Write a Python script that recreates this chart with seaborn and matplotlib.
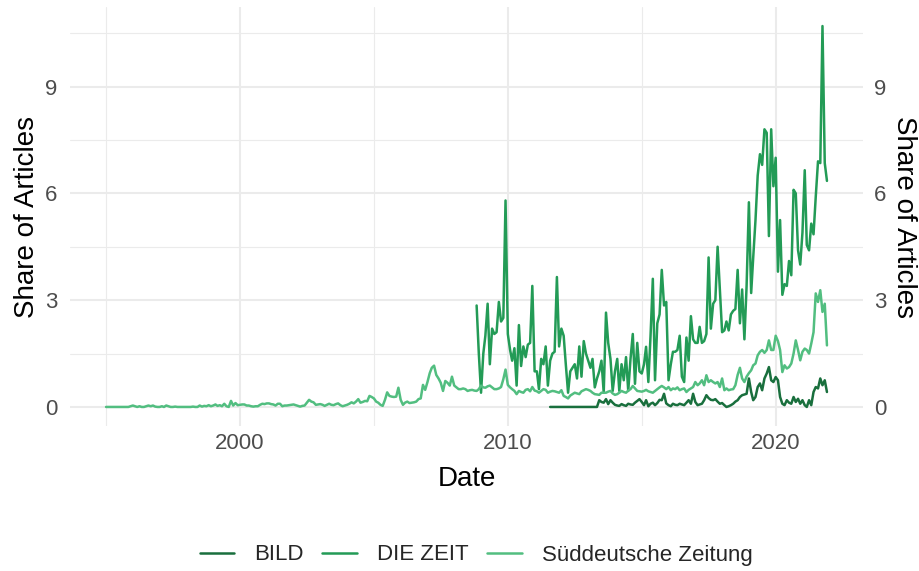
import numpy as np
import pandas as pd
import matplotlib
matplotlib.use("Agg")
import matplotlib.pyplot as plt
import seaborn as sns

# monthly share of articles (%)
sz_start = "1995-01-01"
sz_share = [
    0, 0, 0, 0, 0, 0, 0, 0, 0, 0, 0, 0.02,                                  # 1995
    0.04, 0.02, 0, 0.02, 0, 0, 0.02, 0.04, 0.02, 0.04, 0.01, 0,              # 1996
    0, 0.02, 0, 0.04, 0.02, 0, 0, 0.01, 0, 0, 0, 0,                          # 1997
    0, 0, 0, 0.01, 0, 0, 0.04, 0.01, 0.03, 0.02, 0.05, 0.02,                 # 1998
    0.04, 0.07, 0.03, 0.05, 0.02, 0.09, 0.02, 0.0, 0.17, 0.04, 0.11, 0.05,   # 1999
    0.06, 0.07, 0.07, 0.04, 0.04, 0.02, 0.01, 0.02, 0.02, 0.06, 0.09, 0.08,  # 2000
    0.1, 0.1, 0.08, 0.07, 0.04, 0.09, 0.09, 0.02, 0.04, 0.04, 0.05, 0.06,    # 2001
    0.07, 0.05, 0.03, 0.01, 0.03, 0.04, 0.12, 0.2, 0.15, 0.13, 0.06, 0.07,   # 2002
    0.08, 0.06, 0.03, 0.06, 0.09, 0.06, 0.05, 0.08, 0.1, 0.05, 0.02, 0.04,   # 2003
    0.06, 0.09, 0.13, 0.1, 0.15, 0.22, 0.12, 0.14, 0.17, 0.16, 0.31, 0.28,   # 2004
    0.24, 0.15, 0.12, 0.06, 0.03, 0.2, 0.41, 0.31, 0.29, 0.28, 0.29, 0.54,   # 2005
    0.2, 0.06, 0.12, 0.15, 0.11, 0.12, 0.13, 0.15, 0.22, 0.24, 0.62, 0.48,   # 2006
    0.7, 0.95, 1.1, 1.16, 0.9, 0.8, 0.68, 0.45, 0.73, 0.68, 0.6, 0.85,       # 2007
    0.6, 0.55, 0.5, 0.5, 0.52, 0.5, 0.45, 0.47, 0.48, 0.46, 0.45, 0.5,       # 2008
    0.6, 0.55, 0.54, 0.58, 0.6, 0.55, 0.5, 0.5, 0.52, 0.56, 0.78, 1.05,      # 2009
    0.62, 0.55, 0.5, 0.45, 0.36, 0.45, 0.42, 0.4, 0.48, 0.5, 0.44, 0.56,     # 2010
    0.46, 0.44, 0.4, 0.45, 0.5, 0.48, 0.4, 0.43, 0.45, 0.44, 0.42, 0.4,      # 2011
    0.47, 0.31, 0.28, 0.24, 0.32, 0.36, 0.4, 0.38, 0.36, 0.44, 0.47, 0.5,    # 2012
    0.48, 0.45, 0.4, 0.36, 0.35, 0.34, 0.4, 0.4, 0.4, 0.43, 0.45, 0.38,      # 2013
    0.34, 0.36, 0.4, 0.45, 0.42, 0.4, 0.46, 0.5, 0.59, 0.52, 0.45, 0.44,     # 2014
    0.43, 0.45, 0.48, 0.44, 0.42, 0.4, 0.45, 0.5, 0.55, 0.59, 0.55, 0.5,     # 2015
    0.56, 0.47, 0.52, 0.5, 0.55, 0.47, 0.5, 0.52, 0.42, 0.48, 0.52, 0.56,    # 2016
    0.7, 0.61, 0.66, 0.75, 0.61, 0.89, 0.7, 0.75, 0.7, 0.66, 0.7, 0.56,      # 2017
    0.8, 0.47, 0.52, 0.47, 0.49, 0.5, 0.61, 0.9, 1.1, 0.8, 0.7, 0.85,        # 2018
    0.95, 1.03, 1.17, 1.22, 1.45, 1.55, 1.6, 1.52, 1.6, 1.87, 1.6, 1.6,      # 2019
    2.0, 1.85, 1.6, 0.98, 1.17, 1.08, 1.12, 1.22, 1.5, 1.87, 1.6, 1.31,      # 2020
    1.55, 1.64, 1.6, 1.5, 1.78, 2.1, 3.19, 2.95, 3.28, 2.67, 2.9, 1.73,      # 2021
]

zeit_start = "2008-11-01"
zeit_share = [
    2.85, 1.5,                                                               # 2008
    0.4, 1.5, 2.0, 2.9, 1.2, 2.2, 2.05, 2.1, 2.95, 2.4, 2.5, 5.8,            # 2009
    2.05, 1.6, 1.3, 1.65, 0.6, 2.3, 1.15, 1.7, 1.4, 1.75, 1.8, 3.4,          # 2010
    1.0, 1.0, 0.5, 1.35, 1.2, 1.7, 0.6, 1.3, 1.5, 1.55, 3.65, 1.7,           # 2011
    2.2, 2.0, 1.2, 0.4, 1.0, 1.1, 1.2, 0.8, 1.7, 0.85, 1.85, 1.5,            # 2012
    1.3, 1.1, 1.35, 0.55, 0.8, 1.0, 1.3, 0.4, 2.65, 1.8, 1.35, 0.45,         # 2013
    1.0, 1.35, 0.45, 1.2, 0.75, 1.4, 0.45, 1.35, 2.05, 0.65, 1.8, 1.0,       # 2014
    0.94, 1.2, 1.69, 0.7, 2.0, 3.6, 0.75, 2.35, 2.6, 3.85, 2.85, 2.95,       # 2015
    0.75, 1.2, 1.55, 1.55, 1.6, 2.0, 0.85, 0.7, 1.95, 1.3, 2.55, 1.9,        # 2016
    1.8, 1.8, 2.25, 1.8, 1.85, 2.05, 4.2, 2.2, 2.9, 3.0, 4.5, 3.3,           # 2017
    2.1, 2.15, 2.4, 2.15, 2.6, 2.7, 2.75, 3.85, 2.35, 3.3, 1.9, 3.4,         # 2018
    5.75, 3.2, 4.2, 5.25, 6.5, 7.1, 6.8, 7.8, 7.7, 4.8, 7.8, 6.2,            # 2019
    7.0, 3.8, 5.25, 3.15, 3.45, 3.4, 4.1, 3.7, 6.1, 6.0, 4.4, 4.0,           # 2020
    4.9, 6.65, 4.55, 4.4, 5.15, 4.85, 5.9, 6.9, 6.85, 10.7, 6.85, 6.35,      # 2021
]

bild_start = "2011-08-01"
bild_share = [
    0, 0, 0, 0, 0,                                                           # 2011
    0, 0, 0, 0, 0, 0, 0, 0, 0, 0, 0, 0,                                      # 2012
    0, 0, 0, 0, 0, 0.19, 0.14, 0.12, 0.22, 0.08, 0.19, 0.12,                 # 2013
    0.06, 0.04, 0.03, 0.08, 0.05, 0.03, 0.09, 0.07, 0.06, 0.12, 0.17, 0.22,  # 2014
    0.14, 0.05, 0.19, 0.02, 0.09, 0.12, 0.05, 0.11, 0.2, 0.19, 0.37, 0.1,    # 2015
    0.05, 0.02, 0.09, 0.06, 0.05, 0.09, 0.07, 0.05, 0.12, 0.19, 0.09, 0.37,  # 2016
    0.14, 0.05, 0.07, 0.09, 0.19, 0.33, 0.25, 0.2, 0.19, 0.22, 0.15, 0.09,   # 2017
    0.11, 0.05, 0.0, 0.02, 0.05, 0.09, 0.15, 0.19, 0.28, 0.33, 0.35, 0.37,   # 2018
    0.8, 0.42, 0.19, 0.28, 0.56, 0.66, 0.47, 0.8, 0.94, 1.12, 0.75, 0.7,     # 2019
    0.84, 0.75, 0.28, 0.09, 0.05, 0.19, 0.12, 0.09, 0.28, 0.14, 0.23, 0.09,  # 2020
    0.19, 0.05, 0.0, 0.19, 0.05, 0.42, 0.56, 0.52, 0.8, 0.61, 0.75, 0.42,    # 2021
]

papers = ["BILD", "DIE ZEIT", "Süddeutsche Zeitung"]
colors = ["#196F3D", "#239B56", "#52BE80"]


def to_frame(name, start, values):
    d = pd.date_range(start, periods=len(values), freq="MS")
    year = d.year + (d.dayofyear - 1) / 365.25
    return pd.DataFrame({"Date": year, "Share": values, "paper": name})


df = pd.concat([
    to_frame("BILD", bild_start, bild_share),
    to_frame("DIE ZEIT", zeit_start, zeit_share),
    to_frame("Süddeutsche Zeitung", sz_start, sz_share),
], ignore_index=True)

sns.set_theme(style="white")
plt.rcParams["font.family"] = ["Liberation Sans", "DejaVu Sans"]

W, H = 920, 571
fig = plt.figure(figsize=(W / 100, H / 100), dpi=100)
ax = fig.add_axes([70 / W, 1 - 426 / H, 793 / W, 419 / H])

sns.lineplot(data=df, x="Date", y="Share", hue="paper", hue_order=papers,
             palette=colors, linewidth=1.8, ax=ax, legend=True)

x0, x1 = df["Date"].min(), df["Date"].max()
ymax = df["Share"].max()
ax.set_xlim(x0 - 0.05 * (x1 - x0), x1 + 0.05 * (x1 - x0))
ax.set_ylim(-0.05 * ymax, ymax * 1.05)

grid_major = "#EBEBEB"
ax.set_xticks([2000, 2010, 2020])
ax.set_xticklabels(["2000", "2010", "2020"])
ax.set_xticks([1995, 2005, 2015], minor=True)
ax.set_yticks([0, 3, 6, 9])
ax.set_yticks([1.5, 4.5, 7.5, 10.5], minor=True)
ax.grid(True, which="major", color=grid_major, linewidth=1.5)
ax.grid(True, which="minor", color=grid_major, linewidth=0.8)
ax.set_axisbelow(True)
for s in ax.spines.values():
    s.set_visible(False)
ax.tick_params(which="both", length=0)
ax.tick_params(axis="y", labelsize=16, labelcolor="#4D4D4D", pad=9)
ax.tick_params(axis="x", labelsize=16, labelcolor="#4D4D4D", pad=5)
ax.set_xlabel("Date", fontsize=20, color="black", va="center")
ax.xaxis.set_label_coords(0.5, (426 - 479) / 419)
ax.set_ylabel("Share of Articles", fontsize=20, color="black", va="center")
ax.yaxis.set_label_coords((27 - 70) / 793, 0.5)

# secondary axis on the right, same scale
ax2 = ax.twinx()
ax2.set_ylim(ax.get_ylim())
ax2.set_yticks([0, 3, 6, 9])
ax2.tick_params(length=0, labelsize=16, labelcolor="#4D4D4D", pad=8)
ax2.set_ylabel("Share of Articles", fontsize=20, color="black",
               rotation=270, va="center")
ax2.yaxis.set_label_coords((904 - 70) / 793, 0.5)
for s in ax2.spines.values():
    s.set_visible(False)
ax2.grid(False)

handles, labels = ax.get_legend_handles_labels()
ax.get_legend().remove()
fig.legend(handles, labels, loc="center", bbox_to_anchor=(476 / W, 1 - 555 / H),
           ncol=3, frameon=False, fontsize=16, handlelength=1.55,
           handletextpad=0.9, columnspacing=0.85)

fig.savefig("out.png", dpi=100)
